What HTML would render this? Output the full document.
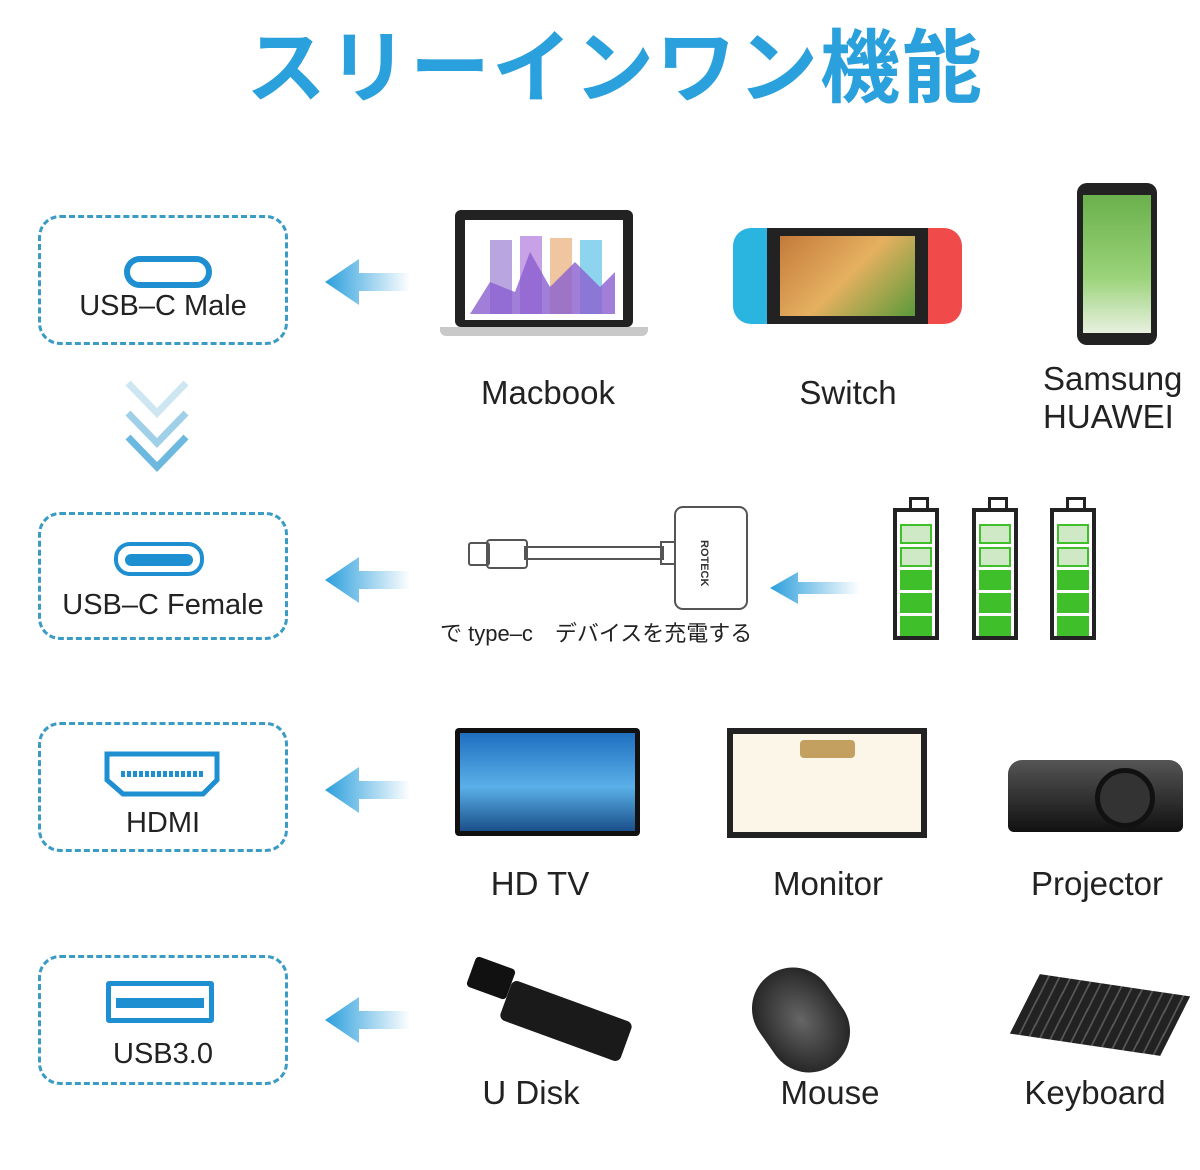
<!DOCTYPE html>
<html><head><meta charset="utf-8"><style>
body{margin:0;width:1200px;height:1170px;background:#fff;position:relative;overflow:hidden;font-family:"Liberation Sans","Noto Sans CJK JP",sans-serif}
.a{position:absolute}
.t{position:absolute;color:#222;font-size:33px;text-align:center;white-space:nowrap}
.box{position:absolute;left:38px;width:250px;border:3px dashed #3a9cc4;border-radius:22px;box-sizing:border-box}
.bl{position:absolute;left:0;width:100%;text-align:center;color:#222;font-size:29px}
.arr{position:absolute;left:325px;width:85px;height:46px}
.bat{position:absolute;width:46px;height:132px;border:4px solid #222;background:#fff;box-sizing:border-box;top:508px}
.bat:before{content:"";position:absolute;left:12px;top:-15px;width:14px;height:10px;border:3px solid #222;border-bottom:none}
.cell{position:absolute;left:3px;width:32px;height:20px;background:#3fbf2a}
.cl{background:#cfe8c5;border:2px solid #3fbf2a;box-sizing:border-box}
</style></head><body>
<div class="a" style="left:0;top:4px;width:1230px;text-align:center;color:#2aa0dc;font-size:80px;font-weight:bold;letter-spacing:2px">スリーインワン機能</div>

<div class="box" style="top:215px;height:130px"><div class="a" style="left:83px;top:38px;width:76px;height:20px;border:6px solid #1e8fd0;border-radius:16px"></div><div class="bl" style="top:72px">USB–C Male</div></div>
<svg class="a" style="left:120px;top:375px" width="75" height="105"><polyline points="8,8 37,38 66,8" fill="none" stroke="#cde6f2" stroke-width="7"/><polyline points="8,38 37,68 66,38" fill="none" stroke="#9fd0e8" stroke-width="7"/><polyline points="8,62 37,92 66,62" fill="none" stroke="#6db8de" stroke-width="7"/></svg>
<div class="box" style="top:512px;height:128px"><div class="a" style="left:73px;top:27px;width:82px;height:26px;border:4px solid #1e8fd0;border-radius:16px"></div><div class="a" style="left:84px;top:39px;width:68px;height:12px;background:#1e8fd0;border-radius:8px"></div><div class="bl" style="top:74px">USB–C Female</div></div>
<div class="box" style="top:722px;height:130px"><svg class="a" style="left:62px;top:25px" width="120" height="48"><path d="M4 4 H114 V30 L100 44 H20 L4 30 Z" fill="none" stroke="#1e8fd0" stroke-width="5"/><line x1="18" y1="24" x2="102" y2="24" stroke="#1e8fd0" stroke-width="6" stroke-dasharray="4 2"/></svg><div class="bl" style="top:82px">HDMI</div></div>
<div class="box" style="top:955px;height:130px"><div class="a" style="left:65px;top:23px;width:108px;height:42px;border:5px solid #1e8fd0;border-radius:3px;box-sizing:border-box"></div><div class="a" style="left:75px;top:40px;width:88px;height:10px;background:#1e8fd0"></div><div class="bl" style="top:80px">USB3.0</div></div>

<svg width="0" height="0"><defs><linearGradient id="g" x1="0" x2="1"><stop offset="0" stop-color="#2b9fdc"/><stop offset="1" stop-color="#2b9fdc" stop-opacity="0"/></linearGradient></defs></svg>
<svg class="arr" style="top:259px"><path d="M0 23 L34 0 V14 H85 V32 H34 V46 Z" fill="url(#g)"/></svg>
<svg class="arr" style="top:557px"><path d="M0 23 L34 0 V14 H85 V32 H34 V46 Z" fill="url(#g)"/></svg>
<svg class="arr" style="top:767px"><path d="M0 23 L34 0 V14 H85 V32 H34 V46 Z" fill="url(#g)"/></svg>
<svg class="arr" style="top:997px"><path d="M0 23 L34 0 V14 H85 V32 H34 V46 Z" fill="url(#g)"/></svg>
<svg class="a" style="left:770px;top:570px" width="90" height="36"><path d="M0 18 L28 2 V12 H90 V24 H28 V34 Z" fill="url(#g)"/></svg>

<div class="a" style="left:455px;top:210px;width:178px;height:117px;background:#222;border-radius:6px"></div>
<div class="a" style="left:465px;top:220px;width:158px;height:100px;background:#fff"></div>
<svg class="a" style="left:470px;top:232px" width="150" height="82"><rect x="20" y="8" width="22" height="74" fill="#b9a6e0"/><rect x="50" y="4" width="22" height="78" fill="#c7a2e6"/><rect x="80" y="6" width="22" height="76" fill="#f0c6a0"/><rect x="110" y="8" width="22" height="74" fill="#8fd4ee"/><path d="M0 82 L20 50 L45 60 L60 20 L80 55 L105 30 L130 55 L145 40 V82 Z" fill="#8a5fd0" opacity=".8"/></svg>
<div class="a" style="left:440px;top:327px;width:208px;height:9px;background:#c9c9c9;border-radius:0 0 6px 6px"></div>
<div class="a" style="left:733px;top:228px;width:36px;height:96px;background:#2ab5e0;border-radius:18px 0 0 18px"></div>
<div class="a" style="left:926px;top:228px;width:36px;height:96px;background:#f04a4a;border-radius:0 18px 18px 0"></div>
<div class="a" style="left:767px;top:228px;width:161px;height:96px;background:#222"></div>
<div class="a" style="left:780px;top:236px;width:135px;height:80px;background:linear-gradient(135deg,#c47a3a,#e5b060 50%,#5a9a3a)"></div>
<div class="a" style="left:1077px;top:183px;width:80px;height:162px;background:#222;border-radius:10px"></div>
<div class="a" style="left:1083px;top:195px;width:68px;height:138px;background:linear-gradient(#6ab04c,#9bd37a 60%,#e8f0e0)"></div>
<div class="t" style="left:448px;top:374px;width:200px">Macbook</div>
<div class="t" style="left:748px;top:374px;width:200px">Switch</div>
<div class="t" style="left:1043px;top:360px;text-align:left;line-height:38px">Samsung<br>HUAWEI</div>

<div class="a" style="left:468px;top:542px;width:18px;height:20px;border:2px solid #555;border-radius:3px"></div>
<div class="a" style="left:486px;top:539px;width:38px;height:26px;border:2px solid #555;border-radius:4px"></div>
<div class="a" style="left:524px;top:546px;width:136px;height:10px;border:2px solid #555"></div>
<div class="a" style="left:660px;top:541px;width:12px;height:20px;border:2px solid #555"></div>
<div class="a" style="left:674px;top:506px;width:70px;height:100px;border:2px solid #555;border-radius:9px"></div>
<div class="a" style="left:698px;top:540px;font-size:11px;font-weight:bold;writing-mode:vertical-rl;color:#333">ROTECK</div>
<div class="a" style="left:440px;top:616px;font-size:22px;color:#222;white-space:nowrap">で type–c　デバイスを充電する</div>
<div class="bat" style="left:893px"><div class="cell cl" style="top:12px"></div><div class="cell cl" style="top:35px"></div><div class="cell" style="top:58px"></div><div class="cell" style="top:81px"></div><div class="cell" style="top:104px"></div></div>
<div class="bat" style="left:972px"><div class="cell cl" style="top:12px"></div><div class="cell cl" style="top:35px"></div><div class="cell" style="top:58px"></div><div class="cell" style="top:81px"></div><div class="cell" style="top:104px"></div></div>
<div class="bat" style="left:1050px"><div class="cell cl" style="top:12px"></div><div class="cell cl" style="top:35px"></div><div class="cell" style="top:58px"></div><div class="cell" style="top:81px"></div><div class="cell" style="top:104px"></div></div>

<div class="a" style="left:455px;top:728px;width:185px;height:108px;background:#111;border-radius:4px"></div>
<div class="a" style="left:460px;top:733px;width:175px;height:98px;background:linear-gradient(#1f6fc0,#5ab0e8 55%,#1a4f8a)"></div>
<div class="a" style="left:727px;top:728px;width:200px;height:110px;background:#222"></div>
<div class="a" style="left:733px;top:734px;width:188px;height:98px;background:#fbf6e8"></div>
<div class="a" style="left:800px;top:740px;width:55px;height:18px;background:#c4a060;border-radius:4px"></div>
<div class="a" style="left:1008px;top:760px;width:175px;height:72px;background:linear-gradient(#555,#111);border-radius:14px 14px 6px 6px"></div>
<div class="a" style="left:1095px;top:768px;width:50px;height:50px;background:#333;border-radius:50%;border:5px solid #111"></div>
<div class="t" style="left:440px;top:865px;width:200px">HD TV</div>
<div class="t" style="left:728px;top:865px;width:200px">Monitor</div>
<div class="t" style="left:997px;top:865px;width:200px">Projector</div>

<div class="a" style="left:470px;top:962px;width:42px;height:32px;background:#111;transform:rotate(20deg);border-radius:4px"></div>
<div class="a" style="left:502px;top:1000px;width:128px;height:42px;background:#1a1a1a;border-radius:6px;transform:rotate(20deg)"></div>
<div class="a" style="left:760px;top:965px;width:82px;height:110px;background:radial-gradient(#666,#111);border-radius:45px;transform:rotate(-35deg)"></div>
<div class="a" style="left:1020px;top:985px;width:160px;height:60px;background:repeating-linear-gradient(90deg,#222 0 9px,#555 9px 11px);transform:skewX(-20deg) rotate(8deg)"></div>
<div class="t" style="left:431px;top:1074px;width:200px">U Disk</div>
<div class="t" style="left:730px;top:1074px;width:200px">Mouse</div>
<div class="t" style="left:995px;top:1074px;width:200px">Keyboard</div>
</body></html>
